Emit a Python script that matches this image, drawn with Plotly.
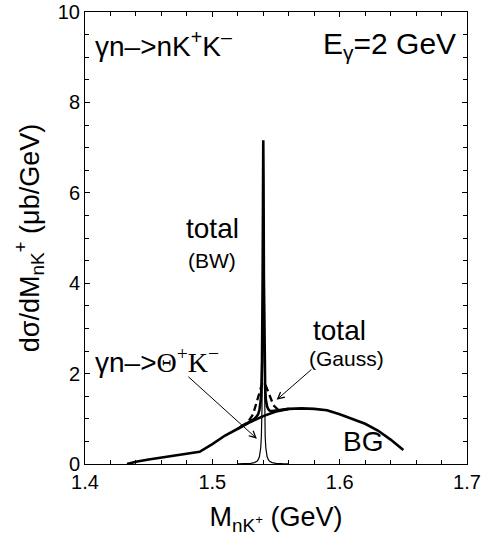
import plotly.graph_objects as go

# ---- data ----
bg_x = [1.433, 1.44, 1.45, 1.46, 1.47, 1.48, 1.49, 1.50, 1.51, 1.52, 1.53, 1.54,
        1.55, 1.56, 1.57, 1.58, 1.59, 1.60, 1.61, 1.62, 1.63, 1.64, 1.65]
bg_y = [0.0, 0.05, 0.10, 0.14, 0.18, 0.22, 0.27, 0.44, 0.63, 0.78, 0.93, 1.06,
        1.16, 1.22, 1.23, 1.22, 1.19, 1.10, 1.00, 0.89, 0.74, 0.54, 0.31]

sig_x = [1.52, 1.525, 1.53, 1.533, 1.535, 1.536, 1.537, 1.538, 1.5385, 1.539, 1.5395,
         1.5398, 1.54, 1.5402, 1.5405, 1.541, 1.5415, 1.542, 1.543, 1.544, 1.545,
         1.547, 1.55, 1.555, 1.56]
sig_y = [0.004, 0.007, 0.015, 0.031, 0.06, 0.094, 0.165, 0.36, 0.61, 1.22, 3.05,
         5.26, 6.1, 5.26, 3.05, 1.22, 0.61, 0.36, 0.165, 0.094, 0.06,
         0.031, 0.015, 0.007, 0.004]

bw_x = sig_x
bw_y = [0.78, 0.87, 0.95, 1.00, 1.06, 1.10, 1.20, 1.40, 1.65, 2.27, 4.10,
        6.32, 7.16, 6.33, 4.12, 2.29, 1.68, 1.43, 1.27, 1.21, 1.18,
        1.17, 1.18, 1.20, 1.22]

gs_x = [1.522, 1.528, 1.532, 1.535, 1.537, 1.539, 1.54, 1.541, 1.543, 1.545, 1.548, 1.552, 1.556]
gs_y = [0.82, 0.93, 1.10, 1.37, 1.60, 1.77, 1.80, 1.79, 1.66, 1.50, 1.30, 1.19, 1.20]

x_ticks = [1.4, 1.5, 1.6, 1.7]
x_ticklabels = ["1.4", "1.5", "1.6", "1.7"]
y_ticks = [0, 2, 4, 6, 8, 10]
y_ticklabels = ["0", "2", "4", "6", "8", "10"]

FONT = "Liberation Sans, Arial, sans-serif"

fig = go.Figure()
fig.add_trace(go.Scatter(x=bg_x, y=bg_y, mode="lines",
                         line=dict(color="black", width=2.6), showlegend=False))
fig.add_trace(go.Scatter(x=sig_x, y=sig_y, mode="lines",
                         line=dict(color="black", width=1.2), showlegend=False))
fig.add_trace(go.Scatter(x=bw_x, y=bw_y, mode="lines",
                         line=dict(color="black", width=2.6), showlegend=False))
fig.add_trace(go.Scatter(x=gs_x, y=gs_y, mode="lines",
                         line=dict(color="black", width=2.3, dash="7px,4px"), showlegend=False))

axis_common = dict(showline=True, linecolor="black", linewidth=1, mirror="allticks",
                   ticks="inside", ticklen=5, tickcolor="black", tickwidth=1,
                   showgrid=False, zeroline=False, automargin=False,
                   tickfont=dict(family=FONT, size=20, color="black"))

fig.update_xaxes(range=[1.4, 1.7], tickvals=x_ticks, ticktext=x_ticklabels,
                 minor=dict(ticks="inside", dtick=0.02, ticklen=4, tickcolor="black", showgrid=False),
                 title=dict(text="M<sub>nK<sup>+</sup></sub> (GeV)",
                            font=dict(family=FONT, size=27, color="black"), standoff=15),
                 **axis_common)
fig.update_yaxes(range=[0, 10], tickvals=y_ticks, ticktext=y_ticklabels,
                 minor=dict(ticks="inside", dtick=0.5, ticklen=4, tickcolor="black", showgrid=False),
                 title=dict(text="dσ/dM<sub>nK</sub><sup>+</sup> (μb/GeV)",
                            font=dict(family=FONT, size=27, color="black"), standoff=10),
                 **axis_common)

big = dict(family=FONT, size=28, color="black")
small = dict(family=FONT, size=21, color="black")
annotations = [
    dict(x=1.406, y=9.3, xref="x", yref="y", xanchor="left", yanchor="middle",
         text="γn–>nK<sup>+</sup>K<sup>–</sup>", showarrow=False, font=big),
    dict(x=1.693, y=9.25, xref="x", yref="y", xanchor="right", yanchor="middle",
         text="E<sub>γ</sub>=2 GeV", showarrow=False, font=dict(family=FONT, size=30, color="black")),
    dict(x=1.5005, y=5.2, xref="x", yref="y", xanchor="center", yanchor="middle",
         text="total", showarrow=False, font=big),
    dict(x=1.5, y=4.5, xref="x", yref="y", xanchor="center", yanchor="middle",
         text="(BW)", showarrow=False, font=small),
    dict(x=1.6, y=2.95, xref="x", yref="y", xanchor="center", yanchor="middle",
         text="total", showarrow=False, font=big),
    dict(x=1.605, y=2.33, xref="x", yref="y", xanchor="center", yanchor="middle",
         text="(Gauss)", showarrow=False, font=small),
    dict(x=1.406, y=2.3, xref="x", yref="y", xanchor="left", yanchor="middle",
         text="γn–><span style=\"font-family:'Liberation Serif'\">Θ<sup>+</sup>K<sup>−</sup></span>",
         showarrow=False, font=big),
    dict(x=1.618, y=0.5, xref="x", yref="y", xanchor="center", yanchor="middle",
         text="BG", showarrow=False, font=big),
    # arrows
    dict(x=1.535, y=0.56, ax=1.480, ay=1.96, xref="x", yref="y", axref="x", ayref="y",
         text="", showarrow=True, arrowhead=5, arrowsize=1.3, arrowwidth=1, arrowcolor="black",
         standoff=0, startstandoff=0),
    dict(x=1.5505, y=1.42, ax=1.579, ay=2.12, xref="x", yref="y", axref="x", ayref="y",
         text="", showarrow=True, arrowhead=5, arrowsize=1.3, arrowwidth=1, arrowcolor="black",
         standoff=0, startstandoff=0),
]

fig.update_layout(width=482, height=540, margin=dict(l=85, r=15, t=12, b=76),
                  paper_bgcolor="white", plot_bgcolor="white",
                  font=dict(family=FONT, color="black"),
                  annotations=annotations, showlegend=False)

fig.write_html("out.html")
